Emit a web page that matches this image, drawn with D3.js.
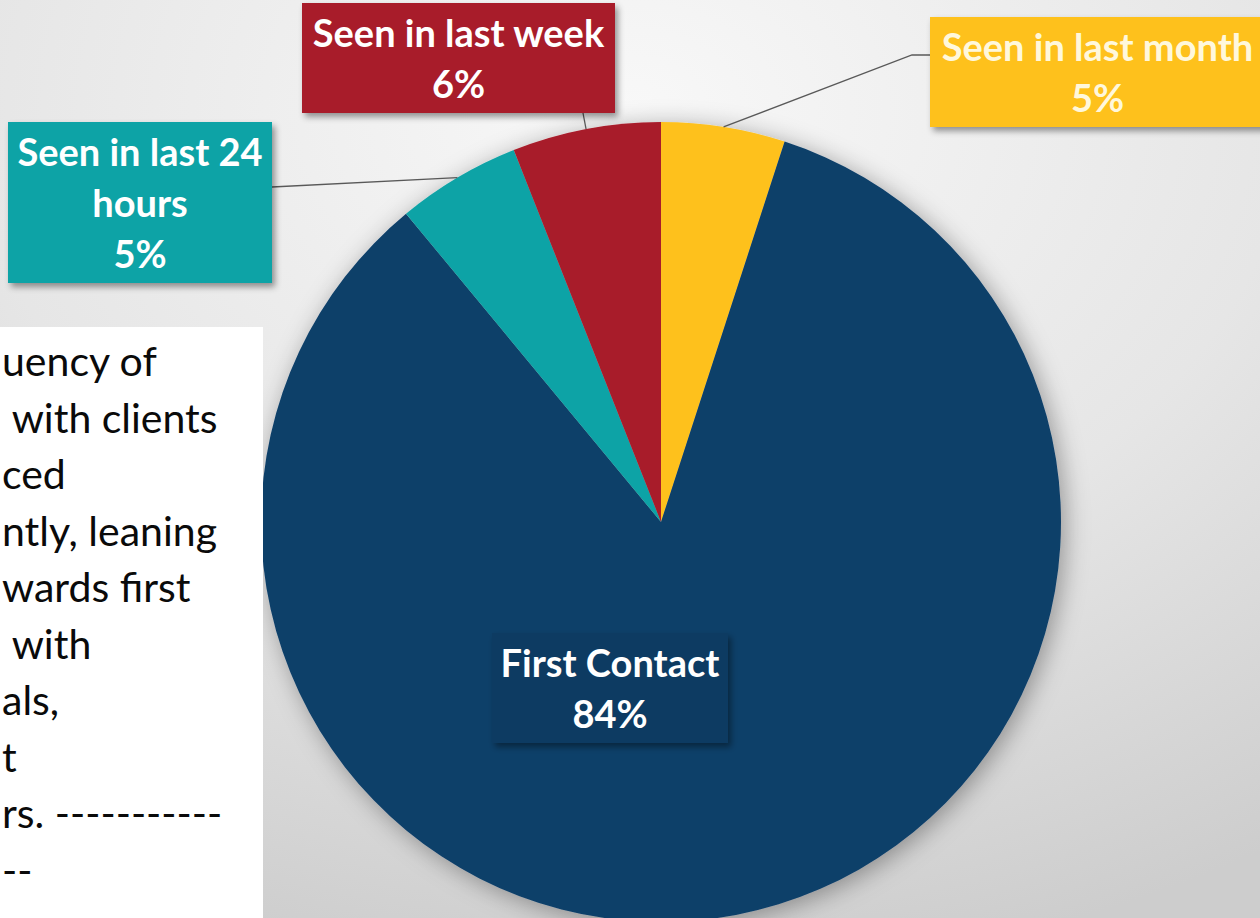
<!DOCTYPE html>
<html>
<head>
<meta charset="utf-8">
<script src="https://cdn.jsdelivr.net/npm/d3@7"></script>
<style>
  html, body { margin: 0; padding: 0; overflow: hidden; background: #e4e4e4; }
  svg { display: block; }
</style>
</head>
<body>
<svg id="chart" width="1260" height="918"></svg>
<script>
// ================= DATA ===================
const categories = ["Seen in last month", "First Contact", "Seen in last 24 hours", "Seen in last week"];
const shares = [5, 84, 5, 6];
const sliceColors = ["#FEC11F", "#0E3F69", "#11A3A6", "#A81B2A"];
const labelLines = [["Seen in last month"], ["First Contact"], ["Seen in last 24", "hours"], ["Seen in last week"]];
const noteLines = ["uency of", " with clients", "ced", "ntly, leaning", "wards first", " with", "als,", "t", "rs. -----------", "--"];

// ================= GLOBAL SETTINGS ===================
const svg = d3.select("#chart");
const width = +svg.attr("width");
const height = +svg.attr("height");
const center = { x: 661, y: 522 };
const radius = 400;
const labelFont = "Lato, 'Open Sans', sans-serif";

// label boxes (same order as categories) + leader end points
const labelBoxes = [
  { x: 930, y: 17, w: 335, h: 110, fill: "#FEC11F", leader: [[912, 55], [930, 55]] },
  { x: 492, y: 633, w: 236, h: 110, fill: "#0C3A62", leader: null },
  { x: 8, y: 122, w: 264, h: 161, fill: "#11A3A6", leader: [[272, 187]] },
  { x: 302, y: 3, w: 313, h: 110, fill: "#A81B2A", leader: [[583, 113]] },
];

const defs = svg.append("defs");

// background gradient
const bg = defs.append("radialGradient")
  .attr("id", "bgGrad")
  .attr("cx", "50%").attr("cy", "12%").attr("r", "95%");
bg.append("stop").attr("offset", "0%").attr("stop-color", "#f8f8f8");
bg.append("stop").attr("offset", "55%").attr("stop-color", "#e6e6e6");
bg.append("stop").attr("offset", "100%").attr("stop-color", "#cdcdcd");

// soft shadows
defs.append("filter")
  .attr("id", "pieShadow")
  .attr("x", "-20%").attr("y", "-20%").attr("width", "140%").attr("height", "140%")
  .append("feDropShadow")
  .attr("dx", 4).attr("dy", 4)
  .attr("stdDeviation", 12)
  .attr("flood-color", "#000")
  .attr("flood-opacity", 0.35);

defs.append("filter")
  .attr("id", "boxShadow")
  .attr("x", "-10%").attr("y", "-10%").attr("width", "130%").attr("height", "140%")
  .append("feDropShadow")
  .attr("dx", 3).attr("dy", 4)
  .attr("stdDeviation", 3)
  .attr("flood-color", "#000")
  .attr("flood-opacity", 0.4);

svg.append("rect")
  .attr("width", width)
  .attr("height", height)
  .attr("fill", "url(#bgGrad)");

// ================= PIE ===================
const pie = d3.pie().sort(null).value((d) => d);
const arcs = pie(shares);
const arc = d3.arc().innerRadius(0).outerRadius(radius);
const edgeArc = d3.arc().innerRadius(radius).outerRadius(radius);

const g = svg.append("g").attr("transform", `translate(${center.x},${center.y})`);

g.append("g")
  .attr("filter", "url(#pieShadow)")
  .selectAll("path")
  .data(arcs)
  .join("path")
  .attr("d", arc)
  .attr("fill", (d, i) => sliceColors[i]);

// ================= LEADER LINES ===================
const lineGen = d3.line();
svg.append("g")
  .selectAll("path")
  .data(arcs.filter((d, i) => labelBoxes[i].leader))
  .join("path")
  .attr("d", (d) => {
    const [cx, cy] = edgeArc.centroid(d);
    const start = [center.x + cx, center.y + cy];
    return lineGen([start, ...labelBoxes[d.index].leader]);
  })
  .attr("fill", "none")
  .attr("stroke", "#595959")
  .attr("stroke-width", 1.3);

// ================= DATA LABELS ===================
const labels = svg.append("g")
  .selectAll("g")
  .data(arcs)
  .join("g")
  .attr("transform", (d, i) => `translate(${labelBoxes[i].x},${labelBoxes[i].y})`);

labels.append("rect")
  .attr("width", (d, i) => labelBoxes[i].w)
  .attr("height", (d, i) => labelBoxes[i].h)
  .attr("fill", (d, i) => labelBoxes[i].fill)
  .attr("filter", "url(#boxShadow)");

labels.append("text")
  .attr("text-anchor", "middle")
  .attr("font-family", labelFont)
  .attr("font-weight", "bold")
  .attr("font-size", 38)
  .attr("fill", (d, i) => (i === 0 ? "#fff8dc" : "#ffffff"))
  .each(function (d, i) {
    const text = d3.select(this);
    const cx = labelBoxes[i].w / 2;
    const lines = [...labelLines[i], `${shares[i]}%`];
    lines.forEach((line, k) => {
      text.append("tspan")
        .attr("x", cx)
        .attr("y", 44 + k * 51)
        .text(line);
    });
  });

// ================= SIDE NOTE (cropped text box) ===================
const note = { x: 0, y: 327, w: 263, h: height - 327 };

defs.append("clipPath")
  .attr("id", "noteClip")
  .append("rect")
  .attr("x", note.x).attr("y", note.y)
  .attr("width", note.w).attr("height", note.h);

svg.append("rect")
  .attr("x", note.x).attr("y", note.y)
  .attr("width", note.w).attr("height", note.h)
  .attr("fill", "#ffffff");

svg.append("g")
  .attr("clip-path", "url(#noteClip)")
  .append("text")
  .attr("font-family", labelFont)
  .attr("font-size", 41)
  .attr("fill", "#0a0a0a")
  .attr("xml:space", "preserve")
  .style("white-space", "pre")
  .selectAll("tspan")
  .data(noteLines)
  .join("tspan")
  .attr("x", 2)
  .attr("y", (d, i) => 376 + i * 56.5)
  .text((d) => d);
</script>
</body>
</html>
